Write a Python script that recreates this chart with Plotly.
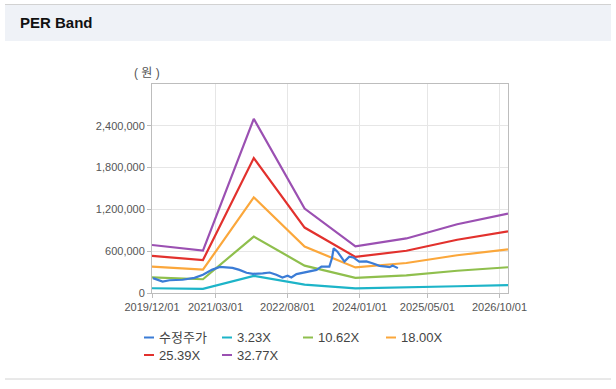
import plotly.graph_objects as go

# ---------------- data ----------------
band_dates = ["2019-12-01", "2020-12-01", "2021-12-01", "2022-12-01",
              "2023-12-01", "2024-12-01", "2025-12-01", "2026-12-01"]
band_323 = [67900, 60100, 246400, 119500, 65900, 77200, 97200, 112400]
band_1062 = [223300, 197500, 810300, 392900, 216600, 253800, 319700, 369600]
band_1800 = [378500, 334800, 1373400, 666000, 367200, 430200, 541800, 626400]
band_2539 = [534000, 472300, 1937300, 939400, 518000, 606800, 764200, 883600]
band_3277 = [689200, 609500, 2500400, 1212500, 668500, 783200, 986400, 1140400]

price_dates = ["2019-12-08", "2020-01-10", "2020-02-15", "2020-04-05", "2020-07-07",
               "2020-10-01", "2020-12-01", "2021-02-03", "2021-04-01", "2021-07-01",
               "2021-08-20", "2021-10-10", "2021-11-25", "2022-02-03", "2022-03-25",
               "2022-05-12", "2022-06-25", "2022-08-01", "2022-08-28", "2022-10-04",
               "2022-12-15", "2023-02-25", "2023-04-01", "2023-05-28", "2023-06-16",
               "2023-06-28", "2023-07-25", "2023-09-13", "2023-10-18", "2023-11-16",
               "2023-12-28", "2024-02-18", "2024-04-01", "2024-05-22", "2024-07-10",
               "2024-08-03", "2024-08-24", "2024-10-01"]
price_vals = [214000, 190000, 165000, 183000, 190000,
              218000, 261000, 332000, 375000, 361000,
              332000, 290000, 275000, 282000, 294000,
              261000, 222000, 247000, 222000, 271000,
              300000, 332000, 379000, 379000, 503000,
              642000, 593000, 451000, 522000, 510000,
              451000, 453000, 428000, 389000, 379000,
              371000, 394000, 357000]

series_names = ["수정주가", "3.23X", "10.62X", "18.00X", "25.39X", "32.77X"]
series_colors = ["#3b7cd6", "#1db4c8", "#8fbf4d", "#fba73b", "#e2312d", "#9b50b2"]

x_tick_vals = ["2019-12-01", "2021-03-01", "2022-08-01", "2024-01-01", "2025-05-01", "2026-10-01"]
y_tick_vals = [0, 600000, 1200000, 1800000, 2400000]

# ---------------- geometry helpers (pixel -> paper) ----------------
W, H = 616, 389
PL, PR, PT, PB = 152, 508, 84, 293


def px(x):
    return (x - PL) / (PR - PL)


def py(y):
    return (PB - y) / (PB - PT)


FONT = "Liberation Sans, Arial, Noto Sans CJK KR, sans-serif"

fig = go.Figure()

bands = [band_323, band_1062, band_1800, band_2539, band_3277]
for i, vals in enumerate(bands):
    fig.add_trace(go.Scatter(x=band_dates, y=vals, mode="lines", name=series_names[i + 1],
                             line=dict(color=series_colors[i + 1], width=2.2),
                             showlegend=False))
fig.add_trace(go.Scatter(x=price_dates, y=price_vals, mode="lines", name=series_names[0],
                         line=dict(color=series_colors[0], width=2.2),
                         showlegend=False))

shapes = []
annotations = []

# header band
shapes.append(dict(type="rect", xref="paper", yref="paper", x0=px(5), x1=px(611),
                   y0=py(5), y1=py(41), fillcolor="#eff2f7", line=dict(width=0), layer="below"))
shapes.append(dict(type="line", xref="paper", yref="paper", x0=px(5), x1=px(611),
                   y0=py(4.5), y1=py(4.5), line=dict(color="#d2d2d2", width=1)))
shapes.append(dict(type="line", xref="paper", yref="paper", x0=px(5), x1=px(611),
                   y0=py(379), y1=py(379), line=dict(color="#d2d2d2", width=1)))
annotations.append(dict(text="<b>PER Band</b>", xref="paper", yref="paper", x=px(18), y=py(23),
                        xanchor="left", yanchor="middle", showarrow=False,
                        font=dict(family=FONT, size=15, color="#111111")))

# y unit label
annotations.append(dict(text="( 원 )", xref="paper", yref="paper", x=px(146.5), y=py(73),
                        xanchor="center", yanchor="middle", showarrow=False,
                        font=dict(family=FONT, size=12, color="#555555")))

# custom legend
legend_pos = [(144, 337.5), (222, 337.5), (303, 337.5), (386, 337.5), (144, 355), (222, 355)]
for (lx, ly), name, color in zip(legend_pos, series_names, series_colors):
    shapes.append(dict(type="line", xref="paper", yref="paper", x0=px(lx), x1=px(lx + 10),
                       y0=py(ly), y1=py(ly), line=dict(color=color, width=2)))
    annotations.append(dict(text=name, xref="paper", yref="paper", x=px(lx + 13), y=py(ly),
                            xanchor="left", yanchor="middle", showarrow=False,
                            font=dict(family=FONT, size=13, color="#444444")))

fig.update_layout(
    width=W, height=H, autosize=False,
    margin=dict(l=PL, r=W - PR, t=PT, b=H - PB, pad=0),
    paper_bgcolor="#ffffff", plot_bgcolor="#ffffff",
    font=dict(family=FONT, size=11, color="#555555"),
    shapes=shapes, annotations=annotations,
    showlegend=False,
    xaxis=dict(type="date", range=["2019-12-01", "2026-12-01"], tickvals=x_tick_vals,
               tickformat="%Y/%m/%d", showgrid=True, gridcolor="#e6e6e6", gridwidth=1,
               showline=True, linecolor="#bdbdbd", linewidth=1, mirror=True,
               ticks="outside", ticklen=4, tickcolor="#bdbdbd",
               tickfont=dict(family=FONT, size=11, color="#555555"), zeroline=False),
    yaxis=dict(range=[0, 3000000], tickvals=y_tick_vals, tickformat=",d",
               showgrid=True, gridcolor="#e6e6e6", gridwidth=1,
               showline=True, linecolor="#bdbdbd", linewidth=1, mirror=True,
               ticks="outside", ticklen=4, tickcolor="#bdbdbd",
               tickfont=dict(family=FONT, size=11, color="#555555"), zeroline=False),
)

fig.write_html("out.html", config={"displayModeBar": False},
               post_script="document.body.style.margin='0';document.body.style.overflow='hidden';")
